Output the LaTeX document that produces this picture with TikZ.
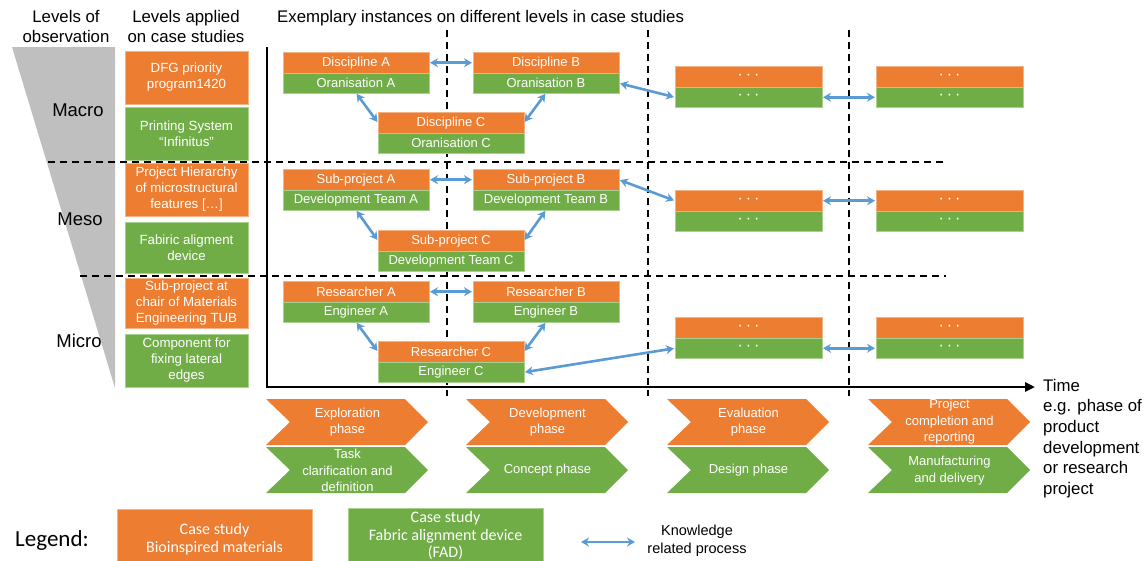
\documentclass[tikz,border=0pt]{standalone}
\usepackage{fontspec}
\setmainfont{Liberation Sans}
\newfontfamily\calfont{Carlito}
\usetikzlibrary{arrows.meta,calc}
\definecolor{cOr}{HTML}{ED7D31}
\definecolor{cOrL}{HTML}{F4B183}
\definecolor{cGr}{HTML}{70AD47}
\definecolor{cGrL}{HTML}{A9D18E}
\definecolor{cBl}{HTML}{5B9BD5}
\definecolor{cGy}{HTML}{BFBFBF}
\newcommand\fsz[2]{\fontsize{#1pt}{#2pt}\selectfont}
\newcommand\dotsw{{\fontsize{16pt}{16pt}\selectfont\textperiodcentered\kern3pt\textperiodcentered\kern3pt\textperiodcentered}}
\newcommand\pair[6]{% name, x, y, width, top, bottom
  \node[ob, minimum width=#4] (#1o) at (#2,#3) {#5};
  \node[gb, minimum width=#4] (#1g) at (#1o.south west) {#6};
}
\newcommand\chev[3]{% x, y, colour
  \fill[#3] (#1,#2) -- ++(139,0) -- ++(23,23) -- ++(-23,23) -- ++(-139,0) -- ++(24,-23) -- cycle;
}
\begin{document}
\begin{tikzpicture}[x=1pt,y=-1pt,
  base/.style={inner sep=0pt, outer sep=0pt, anchor=north west, text=white, align=center, font=\fsz{13}{15.5}},
  ob/.style={base, fill=cOr, draw=cOrL, line width=0.5pt, minimum height=21.5pt},
  gb/.style={base, fill=cGr, draw=cGrL, line width=0.5pt, minimum height=19.5pt},
  lob/.style={base, fill=cOr, draw=cOrL, line width=0.5pt, minimum width=123pt, font=\fsz{13.3}{16}},
  lgb/.style={base, fill=cGr, draw=cGrL, line width=0.5pt, minimum width=123pt, font=\fsz{13.3}{16}},
  hdr/.style={inner sep=0pt, align=center, font=\fsz{16.8}{20}},
  lvl/.style={inner sep=0pt, font=\fsz{18.5}{20}},
  ph/.style={inner sep=0pt, align=center, text=white, font=\fsz{13}{16.5}},
  kn/.style={draw=cBl, line width=2.6pt, {Stealth[length=8pt,width=9pt]}-{Stealth[length=8pt,width=9pt]}, shorten <=1pt, shorten >=1pt},
  dl/.style={draw=black, line width=1.7pt, dash pattern=on 7pt off 5pt},
  ax/.style={draw=black, line width=2.8pt, -{Triangle[length=10pt,width=9pt]}}
]
\clip (0,0) rectangle (1146,560);
\fill[white] (0,0) rectangle (1146,560);

% gray level triangle
\fill[cGy] (12,47) -- (115,47) -- (115,388) -- cycle;

% headers
\node[hdr] (h1) at (66,26) {Levels of\\observation};
\node[hdr] (h2) at (186,26) {Levels applied\\on case studies};
\node[hdr, anchor=west] (h3) at (277,18) {Exemplary instances on different levels in case studies};

% level labels
\node[lvl] (lmac) at (78,110) {Macro};
\node[lvl] (lmes) at (80,219) {Meso};
\node[lvl] (lmic) at (79,341) {Micro};

% dashed separators
\coordinate (hd1a) at (48,162);  \coordinate (hd1b) at (946,162);
\coordinate (hd2a) at (80,276);  \coordinate (hd2b) at (946,276);
\coordinate (vd1a) at (447,30);  \coordinate (vd1b) at (447,396);
\coordinate (vd2a) at (648,30);  \coordinate (vd2b) at (648,396);
\coordinate (vd3a) at (849,30);  \coordinate (vd3b) at (849,396);
\draw[dl] (hd1a) -- (hd1b);
\draw[dl] (hd2a) -- (hd2b);
\draw[dl] (vd1a) -- (vd1b);
\draw[dl] (vd2a) -- (vd2b);
\draw[dl] (vd3a) -- (vd3b);

% axes
\coordinate (ay) at (267,47);
\coordinate (ao) at (267,387);
\coordinate (axe) at (1035,387);
\draw[ax] (ay) -- (ao) -- (axe);
\node[inner sep=0pt, anchor=north west, align=left, font=\fsz{16.8}{20.6}] (time) at (1043,379)
  {Time\\e.g. phase of\\product\\development\\or research\\project};

% left column
\node[lob, minimum height=53pt] (c1) at (125,51) {DFG priority\\program1420};
\node[lgb, minimum height=53pt] (c2) at (125,107) {Printing System\\\char"201C Infinitus\char"201D};
\node[lob, minimum height=53pt] (c3) at (125,163) {Project Hierarchy\\of microstructural\\features [\char"2026]};
\node[lgb, minimum height=51pt] (c4) at (125,222) {Fabiric aligment\\device};
\node[lob, minimum height=50pt] (c5) at (125,278) {Sub-project at\\chair of Materials\\Engineering TUB};
\node[lgb, minimum height=53pt] (c6) at (125,334) {Component for\\fixing lateral\\edges};

% macro
\pair{dA}{283}{52}{146pt}{Discipline A}{Oranisation A}
\pair{dB}{473}{52}{146pt}{Discipline B}{Oranisation B}
\pair{dC}{378}{112}{146pt}{Discipline C}{Oranisation C}
\pair{dR}{675}{66}{147pt}{\dotsw}{\dotsw}
\pair{dS}{876}{66}{147pt}{\dotsw}{\dotsw}
% meso
\pair{sA}{283}{169}{146pt}{Sub-project A}{Development Team A}
\pair{sB}{473}{169}{146pt}{Sub-project B}{Development Team B}
\pair{sC}{378}{230}{146pt}{Sub-project C}{Development Team C}
\pair{sR}{675}{190}{147pt}{\dotsw}{\dotsw}
\pair{sS}{876}{190}{147pt}{\dotsw}{\dotsw}
% micro
\pair{rA}{283}{281}{146pt}{Researcher A}{Engineer A}
\pair{rB}{473}{281}{146pt}{Researcher B}{Engineer B}
\pair{rC}{378}{341}{146pt}{Researcher C}{Engineer C}
\pair{rR}{675}{317}{147pt}{\dotsw}{\dotsw}
\pair{rS}{876}{317}{147pt}{\dotsw}{\dotsw}

% knowledge arrows
\draw[kn] (dAo.east) -- (dBo.west);
\draw[kn] (dAg.south) -- (dCo.west);
\draw[kn] (dBg.south) -- (dCo.east);
\draw[kn] (dBg.east) -- (dRg.west);
\draw[kn] (dRg.east) -- (dSg.west);
\draw[kn] (sAo.east) -- (sBo.west);
\draw[kn] (sAg.south) -- (sCo.west);
\draw[kn] (sBg.south) -- (sCo.east);
\draw[kn] (sBo.east) -- (sRo.west);
\draw[kn] (sRo.east) -- (sSo.west);
\draw[kn] (rAo.east) -- (rBo.west);
\draw[kn] (rAg.south) -- (rCo.west);
\draw[kn] (rBg.south) -- (rCo.east);
\draw[kn] (rCg.east) -- (rRg.west);
\draw[kn] (rRg.east) -- (rSg.west);

% phases
\chev{266}{399}{cOr} \chev{266}{447}{cGr}
\chev{466}{399}{cOr} \chev{466}{447}{cGr}
\chev{667}{399}{cOr} \chev{667}{447}{cGr}
\chev{868}{399}{cOr} \chev{868}{447}{cGr}
\node[ph] (p1o) at (347.5,422) {Exploration\\phase};
\node[ph] (p1g) at (347.5,470.5) {Task\\clarification and\\definition};
\node[ph] (p2o) at (547.5,422) {Development\\phase};
\node[ph] (p2g) at (547.5,470.5) {Concept phase};
\node[ph] (p3o) at (748.5,422) {Evaluation\\phase};
\node[ph] (p3g) at (748.5,470.5) {Design phase};
\node[ph] (p4o) at (949.5,422) {Project\\completion and\\reporting};
\node[ph] (p4g) at (949.5,470.5) {Manufacturing\\and delivery};

% legend
\node[inner sep=0pt, font=\calfont\fsz{23}{25}] (leg) at (52,540) {Legend:};
\node[base, fill=cOr, draw=cOrL, line width=0.5pt, minimum width=195pt, minimum height=60pt, font=\calfont\fsz{16}{17.5}] (lo) at (117,509) {Case study\\Bioinspired materials};
\node[base, fill=cGr, draw=cGrL, line width=0.5pt, minimum width=195pt, minimum height=56pt, font=\calfont\fsz{16}{17.5}] (lg) at (348,508) {Case study\\Fabric alignment device\\(FAD)};
\coordinate (k1) at (580,542);
\coordinate (k2) at (636,542);
\draw[kn] (k1) -- (k2);
\node[inner sep=0pt, align=center, font=\fsz{14.5}{18}] (kt) at (697,541) {Knowledge\\related process};
\end{tikzpicture}
\end{document}
